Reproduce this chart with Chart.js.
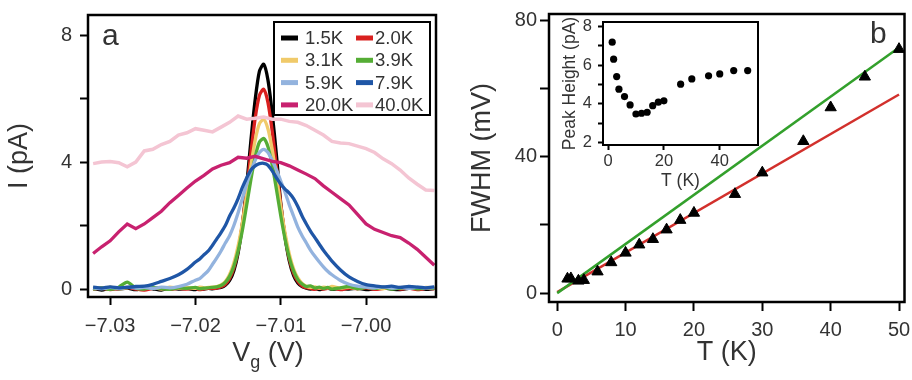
<!DOCTYPE html>
<html lang="en">
<head>
<meta charset="UTF-8">
<title>Coulomb peak vs temperature</title>
<script src="https://cdn.jsdelivr.net/npm/chart.js"></script>
<style>
  body { margin: 0; background: #fff; }
  #wrap { position: relative; width: 912px; height: 380px; }
  canvas { position: absolute; }
</style>
</head>
<body>
<div id="wrap">
  <canvas id="chartA" width="460" height="380" style="left:0;top:0"></canvas>
  <canvas id="chartB" width="452" height="380" style="left:460px;top:0"></canvas>
  <canvas id="inset" width="210" height="185" style="left:560px;top:10px"></canvas>
</div>
<script>
// ---- panel a : I(Vg) curves ----
const temps = ['1.5K', '2.0K', '3.1K', '3.9K', '5.9K', '7.9K', '20.0K', '40.0K'];
const colors = ['#000000', '#d9201f', '#f0ca6a', '#55ad35', '#93b3de', '#1f56a6', '#c8216f', '#f4c5d3'];

// gate voltage grid for the narrow peaks (V)
const vgNarrow = [-7.032, -7.031, -7.030, -7.029, -7.028, -7.027, -7.026, -7.025, -7.024, -7.023, -7.022, -7.021,
  -7.0200, -7.0195, -7.0190, -7.0185, -7.0180, -7.0175, -7.0170, -7.0165, -7.0160, -7.0155, -7.0150, -7.0145,
  -7.0140, -7.0135, -7.0130, -7.0125, -7.0120, -7.0115, -7.0110, -7.0105, -7.0100, -7.0095, -7.0090, -7.0085,
  -7.0080, -7.0075, -7.0070, -7.0065, -7.0060, -7.0055, -7.0050, -7.0045, -7.0040,
  -7.003, -7.002, -7.001, -7.000, -6.999, -6.998, -6.997, -6.996, -6.995, -6.994, -6.993, -6.992];
// gate voltage grid for the broad curves (V)
const vgWide = [-7.032, -7.031, -7.030, -7.029, -7.028, -7.027, -7.026, -7.025, -7.024, -7.023, -7.022,
  -7.021, -7.020, -7.019, -7.018, -7.017, -7.016, -7.015, -7.014, -7.013, -7.012, -7.011, -7.010, -7.009,
  -7.008, -7.007, -7.006, -7.005, -7.004, -7.003, -7.002, -7.001, -7.000, -6.999, -6.998, -6.997, -6.996,
  -6.995, -6.994, -6.993, -6.992];

// current (pA)
const i1p5 = [0.02, -0.03, 0.04, 0.0, 0.03, -0.02, 0.05, 0.01, -0.03, 0.04, 0.0, 0.02,
  -0.02, 0.03, 0.0, 0.02, 0.01, 0.03, 0.05, 0.12, 0.27, 0.58, 1.14, 2.04, 3.25, 4.68, 5.96, 6.86,
  7.08, 6.58, 5.53, 4.19, 2.7, 1.64, 0.89, 0.43, 0.19, 0.08, 0.03, 0.0, 0.02, -0.02, 0.01, 0.03, -0.01,
  0.02, 0.0, 0.03, -0.02, 0.01, 0.04, 0.0, -0.02, 0.02, 0.03, -0.01, 0.02];
const i2p0 = [0.0, 0.03, -0.02, 0.02, 0.05, 0.0, -0.03, 0.02, 0.04, -0.01, 0.02, 0.0,
  0.03, -0.02, 0.01, 0.02, 0.02, 0.03, 0.07, 0.15, 0.33, 0.66, 1.22, 2.05, 3.11, 4.3, 5.38, 6.1,
  6.29, 5.87, 4.97, 3.82, 2.66, 1.68, 0.96, 0.5, 0.24, 0.1, 0.04, 0.02, -0.01, 0.03, 0.0, 0.02, 0.04,
  -0.02, 0.03, 0.01, 0.04, -0.01, 0.02, 0.05, 0.0, 0.03, -0.02, 0.02, 0.01];
const i3p1 = [0.05, 0.02, 0.06, 0.01, 0.04, 0.07, 0.02, 0.05, 0.0, 0.06, 0.03, 0.05,
  0.02, 0.06, 0.04, 0.05, 0.06, 0.08, 0.13, 0.24, 0.46, 0.82, 1.36, 2.09, 2.97, 3.89, 4.69, 5.21,
  5.34, 5.04, 4.39, 3.52, 2.6, 1.77, 1.11, 0.64, 0.35, 0.18, 0.09, 0.05, 0.07, 0.03, 0.06, 0.04, 0.08,
  0.03, 0.06, 0.02, 0.07, 0.04, 0.01, 0.06, 0.03, 0.07, 0.02, 0.05, 0.04];
const i3p9 = [0.0, 0.04, -0.01, 0.06, 0.22, 0.03, 0.0, 0.05, 0.02, -0.01, 0.04, 0.02,
  0.05, 0.01, 0.03, 0.04, 0.05, 0.07, 0.11, 0.21, 0.4, 0.72, 1.2, 1.85, 2.64, 3.45, 4.16, 4.63,
  4.74, 4.48, 3.9, 3.13, 2.31, 1.58, 0.99, 0.57, 0.3, 0.16, 0.08, 0.1, 0.03, 0.06, 0.02, 0.05, 0.0,
  0.04, 0.08, 0.01, 0.05, 0.02, 0.06, 0.0, 0.03, 0.05, 0.01, 0.04, 0.02];
const i5p9 = [0.04, 0.01, 0.05, 0.02, 0.06, 0.03, 0.05, 0.02, 0.06, 0.04, 0.08, 0.15,
  0.28, 0.33, 0.45, 0.58, 0.78, 0.98, 1.2, 1.45, 1.68, 2.0, 2.4, 2.85, 3.3, 3.7, 4.05, 4.3,
  4.4, 4.3, 4.05, 3.75, 3.4, 3.05, 2.65, 2.3, 1.95, 1.68, 1.45, 1.22, 1.03, 0.86, 0.7, 0.56, 0.45,
  0.27, 0.15, 0.09, 0.06, 0.04, 0.07, 0.03, 0.05, 0.02, 0.06, 0.04, 0.05];
const i7p9 = [0.06, 0.03, 0.07, 0.04, 0.05, 0.08, 0.09, 0.15, 0.24, 0.33, 0.45, 0.62,
  0.85, 0.95, 1.08, 1.2, 1.38, 1.58, 1.78, 2.0, 2.3, 2.55, 2.85, 3.2, 3.5, 3.75, 3.88, 3.95,
  3.96, 3.9, 3.72, 3.5, 3.3, 3.15, 3.02, 2.85, 2.6, 2.3, 2.05, 1.82, 1.62, 1.42, 1.22, 1.05, 0.88,
  0.6, 0.38, 0.24, 0.14, 0.1, 0.07, 0.09, 0.05, 0.08, 0.06, 0.04, 0.07];
const i20 = [1.12, 1.33, 1.52, 1.8, 2.05, 1.9, 2.05, 2.25, 2.45, 2.72, 2.95, 3.18, 3.4, 3.58, 3.78, 3.9,
  3.98, 4.15, 4.12, 4.18, 4.1, 4.02, 3.98, 3.88, 3.75, 3.62, 3.48, 3.25, 3.05, 2.85, 2.65, 2.35, 2.05,
  1.88, 1.78, 1.68, 1.62, 1.45, 1.25, 1.0, 0.75];
const i40 = [3.95, 4.0, 4.02, 3.98, 3.85, 4.0, 4.35, 4.4, 4.55, 4.65, 4.85, 4.92, 5.05, 5.0, 4.95, 5.1,
  5.25, 5.45, 5.35, 5.38, 5.42, 5.35, 5.35, 5.28, 5.25, 5.15, 5.0, 4.85, 4.65, 4.6, 4.58, 4.5, 4.42,
  4.3, 4.1, 3.95, 3.75, 3.5, 3.3, 3.12, 3.1];

const xTicksA = [-7.03, -7.02, -7.01, -7.00];
const yTicksA = [0, 2, 4, 6, 8];
const yLabelsA = [0, 4, 8];

// ---- panel b : FWHM and peak height vs T ----
const tK = [1.5, 2.0, 3.1, 3.9, 5.9, 7.9, 10, 12, 14, 16, 18, 20, 26, 30, 36, 40, 45, 50];
const fwhm = [4.2, 4.3, 3.6, 3.8, 6.3, 9.0, 11.8, 14.2, 15.8, 18.6, 21.4, 23.5, 29.0, 35.3, 44.5, 54.4, 63.4, 71.5];
const peakHeight = [7.19, 6.31, 5.41, 4.76, 4.38, 3.95, 3.48, 3.52, 3.57, 3.91, 4.09, 4.16, 5.02, 5.29, 5.45, 5.55, 5.72, 5.72];
const fitT = [0, 50];
const fitGreen = [0, 72];
const fitRed = [0.3, 58.2];

const xTicksB = [0, 10, 20, 30, 40, 50];
const yTicksB = [0, 20, 40, 60, 80];
const yLabelsB = [0, 40, 80];
const xTicksInset = [0, 20, 40];
const yTicksInset = [2, 3, 4, 5, 6, 7, 8];
const yLabelsInset = [2, 4, 6, 8];

const FONT = "'Liberation Sans', Arial, Helvetica, sans-serif";
Chart.defaults.font.family = FONT;
Chart.defaults.color = '#333';

const pts = (xs, ys) => xs.map((x, i) => ({ x: x, y: ys[i] }));
const setTicks = vals => scale => { scale.ticks = vals.map(v => ({ value: v })); };
const fixSize = (w, h) => scale => {
  if (w) scale.width = w;
  if (h) scale.height = h;
  scale.paddingLeft = scale.paddingRight = scale.paddingTop = scale.paddingBottom = 0;
};

// black box round the plot area
const frame = {
  id: 'frame',
  beforeDraw(chart, args, opts) {
    if (!opts.fill) return;
    const a = chart.chartArea;
    chart.ctx.save();
    chart.ctx.fillStyle = '#fff';
    chart.ctx.fillRect(a.left, a.top, a.right - a.left, a.bottom - a.top);
    chart.ctx.restore();
  },
  afterDatasetsDraw(chart, args, opts) {
    const a = chart.chartArea, ctx = chart.ctx;
    ctx.save();
    ctx.lineWidth = opts.width || 2.5;
    ctx.strokeStyle = '#000';
    ctx.strokeRect(a.left, a.top, a.right - a.left, a.bottom - a.top);
    ctx.restore();
  }
};

// panel letters
const tag = {
  id: 'tag',
  afterDraw(chart, args, opts) {
    if (!opts.text) return;
    const ctx = chart.ctx;
    ctx.save();
    ctx.fillStyle = '#333';
    ctx.font = '30px ' + FONT;
    ctx.fillText(opts.text, opts.x, opts.y);
    ctx.restore();
  }
};

// two-column boxed legend of panel a
const boxLegend = {
  id: 'boxLegend',
  afterDraw(chart) {
    const ctx = chart.ctx;
    ctx.save();
    ctx.fillStyle = '#fff';
    ctx.fillRect(274, 22, 156, 93);
    ctx.lineWidth = 2;
    ctx.strokeStyle = '#000';
    ctx.strokeRect(274, 22, 156, 93);
    ctx.font = '18.5px ' + FONT;
    ctx.textBaseline = 'middle';
    temps.forEach((t, i) => {
      const col = i % 2, row = Math.floor(i / 2);
      const x = col ? 356 : 281, y = 38 + row * 22.3;
      ctx.strokeStyle = colors[i];
      ctx.lineWidth = 5;
      ctx.beginPath();
      ctx.moveTo(x, y);
      ctx.lineTo(x + 17, y);
      ctx.stroke();
      ctx.fillStyle = '#333';
      ctx.fillText(t, x + (col ? 19 : 24), y + 1);
    });
    ctx.restore();
  }
};

// "Vg (V)" with subscript g
const vgTitle = {
  id: 'vgTitle',
  afterDraw(chart) {
    const ctx = chart.ctx, a = chart.chartArea;
    const big = '27px ' + FONT, small = '18px ' + FONT;
    ctx.save();
    ctx.fillStyle = '#333';
    ctx.font = big;
    const wV = ctx.measureText('V').width, wR = ctx.measureText(' (V)').width;
    ctx.font = small;
    const wg = ctx.measureText('g').width;
    let x = (a.left + a.right) / 2 + 6 - (wV + wg + wR) / 2;
    const y = 361;
    ctx.font = big; ctx.fillText('V', x, y); x += wV;
    ctx.font = small; ctx.fillText('g', x, y + 7); x += wg;
    ctx.font = big; ctx.fillText(' (V)', x, y);
    ctx.restore();
  }
};

// ---- chart a ----
const curves = [i1p5, i2p0, i3p1, i3p9, i5p9, i7p9, i20, i40];
const dsA = curves.map((c, i) => ({
  label: temps[i],
  data: pts(i < 6 ? vgNarrow : vgWide, c),
  borderColor: colors[i],
  borderWidth: i === 7 ? 3.5 : 3.3,
  pointRadius: 0,
  tension: i < 6 ? 0.25 : 0,
  fill: false,
  order: 8 - i
}));

new Chart(document.getElementById('chartA'), {
  type: 'line',
  data: { datasets: dsA },
  options: {
    responsive: false,
    animation: false,
    events: [],
    layout: { padding: { top: 15, right: 24, left: 0, bottom: 0 } },
    plugins: {
      legend: { display: false },
      tooltip: { enabled: false },
      frame: { width: 2.5 },
      tag: { text: 'a', x: 102, y: 45 }
    },
    scales: {
      x: {
        type: 'linear', min: -7.0326, max: -6.9918,
        afterBuildTicks: setTicks(xTicksA),
        afterFit: fixSize(0, 83),
        ticks: { callback: v => '\u2212' + Math.abs(v).toFixed(2), font: { size: 20 }, padding: 9, maxRotation: 0, autoSkip: false },
        grid: { drawOnChartArea: false, tickLength: 8, tickWidth: 2, tickColor: '#000' },
        border: { display: false }
      },
      y: {
        type: 'linear', min: -0.25, max: 8.63,
        afterBuildTicks: setTicks(yTicksA),
        afterFit: fixSize(88, 0),
        ticks: { callback: v => yLabelsA.includes(v) ? String(v) : '', font: { size: 20 }, padding: 8, autoSkip: false },
        grid: { drawOnChartArea: false, tickLength: 8, tickWidth: 2, tickColor: '#000' },
        border: { display: false },
        title: { display: true, text: 'I (pA)', font: { size: 27 }, padding: { top: 3, bottom: 0 } }
      }
    }
  },
  plugins: [frame, tag, boxLegend, vgTitle]
});

// ---- chart b ----
new Chart(document.getElementById('chartB'), {
  type: 'scatter',
  data: {
    datasets: [
      { label: 'FWHM', data: pts(tK, fwhm), pointStyle: 'triangle', pointRadius: 6.5,
        backgroundColor: '#000', borderColor: '#000', borderWidth: 1, order: 0 },
      { label: 'fit high', data: pts(fitT, fitGreen), showLine: true, pointRadius: 0,
        borderColor: '#33a02c', borderWidth: 2.5, order: 1 },
      { label: 'fit low', data: pts(fitT, fitRed), showLine: true, pointRadius: 0,
        borderColor: '#d2302c', borderWidth: 2.5, order: 2 }
    ]
  },
  options: {
    responsive: false,
    animation: false,
    events: [],
    layout: { padding: { top: 14, right: 7, left: 0, bottom: 0 } },
    plugins: {
      legend: { display: false },
      tooltip: { enabled: false },
      frame: { width: 2.5 },
      tag: { text: 'b', x: 410, y: 43 }
    },
    scales: {
      x: {
        type: 'linear', min: -1.2, max: 50.8,
        afterBuildTicks: setTicks(xTicksB),
        afterFit: fixSize(0, 78),
        ticks: { font: { size: 20 }, padding: 7, maxRotation: 0, autoSkip: false },
        grid: { drawOnChartArea: false, tickLength: 9, tickWidth: 2, tickColor: '#000' },
        border: { display: false },
        title: { display: true, text: 'T (K)', font: { size: 27 }, padding: { top: 0, bottom: 11 } }
      },
      y: {
        type: 'linear', min: -2.6, max: 81.8,
        afterBuildTicks: setTicks(yTicksB),
        afterFit: fixSize(89, 0),
        ticks: { callback: v => yLabelsB.includes(v) ? String(v) : '', font: { size: 20 }, padding: 3, autoSkip: false },
        grid: { drawOnChartArea: false, tickLength: 9, tickWidth: 2, tickColor: '#000' },
        border: { display: false },
        title: { display: true, text: 'FWHM (mV)', font: { size: 27 }, padding: { top: 6, bottom: 0 } }
      }
    }
  },
  plugins: [frame, tag]
});

// ---- inset ----
new Chart(document.getElementById('inset'), {
  type: 'scatter',
  data: {
    datasets: [
      { label: 'Peak Height', data: pts(tK, peakHeight), pointStyle: 'circle', pointRadius: 3.6,
        backgroundColor: '#000', borderColor: '#000', borderWidth: 0 }
    ]
  },
  options: {
    responsive: false,
    animation: false,
    events: [],
    layout: { padding: { top: 12, right: 12, left: 0, bottom: 0 } },
    plugins: {
      legend: { display: false },
      tooltip: { enabled: false },
      frame: { width: 2, fill: true }
    },
    scales: {
      x: {
        type: 'linear', min: -1.8, max: 53.7,
        afterBuildTicks: setTicks(xTicksInset),
        afterFit: fixSize(0, 50),
        ticks: { font: { size: 16.5 }, padding: 2, maxRotation: 0, autoSkip: false },
        grid: { drawOnChartArea: false, tickLength: 5, tickWidth: 2, tickColor: '#000' },
        border: { display: false },
        title: { display: true, text: 'T (K)', font: { size: 17.5 }, padding: { top: 0, bottom: 3 } }
      },
      y: {
        type: 'linear', min: 1.88, max: 8.23,
        afterBuildTicks: setTicks(yTicksInset),
        afterFit: fixSize(43, 0),
        ticks: { callback: v => yLabelsInset.includes(v) ? String(v) : '', font: { size: 16.5 }, padding: 6, autoSkip: false },
        grid: { drawOnChartArea: false, tickLength: 5, tickWidth: 2, tickColor: '#000' },
        border: { display: false },
        title: { display: true, text: 'Peak Height (pA)', font: { size: 17.5 }, padding: { top: 0, bottom: 0 } }
      }
    }
  },
  plugins: [frame]
});
</script>
</body>
</html>
